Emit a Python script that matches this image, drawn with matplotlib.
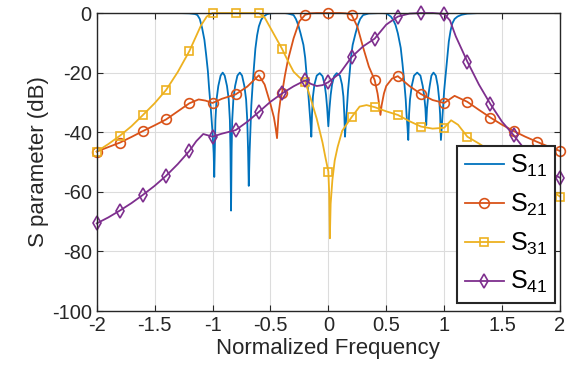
import numpy as np
import matplotlib
matplotlib.use("Agg")
import matplotlib.pyplot as plt

# Frequency axis (normalized) and S-parameters in dB
s11_f = [-2.0, -1.3, -1.2, -1.15, -1.13, -1.11, -1.09, -1.07, -1.055, -1.04, -1.03, -1.015,
         -1.0, -0.99, -0.985, -0.98, -0.975, -0.965, -0.95, -0.93, -0.912, -0.895, -0.875,
         -0.86, -0.85, -0.845, -0.84, -0.835, -0.83, -0.82, -0.805, -0.785, -0.764, -0.745,
         -0.725, -0.71, -0.7, -0.693, -0.687, -0.68, -0.672, -0.665, -0.655, -0.643, -0.63,
         -0.615, -0.6, -0.58, -0.56, -0.53, -0.5, -0.45, -0.38, -0.35, -0.3, -0.28, -0.26,
         -0.24, -0.215, -0.2, -0.19, -0.175, -0.16, -0.152, -0.147, -0.141, -0.133, -0.12,
         -0.1, -0.074, -0.05, -0.032, -0.02, -0.01, 0.0, 0.01, 0.02, 0.032, 0.05, 0.072,
         0.1, 0.118, 0.13, 0.138, 0.144, 0.149, 0.157, 0.17, 0.185, 0.195, 0.21, 0.235,
         0.255, 0.275, 0.3, 0.35, 0.45, 0.5, 0.54, 0.56, 0.58, 0.6, 0.625, 0.64, 0.655,
         0.668, 0.675, 0.683, 0.69, 0.697, 0.705, 0.72, 0.74, 0.767, 0.795, 0.815, 0.828,
         0.838, 0.845, 0.852, 0.862, 0.875, 0.89, 0.908, 0.928, 0.945, 0.957, 0.965, 0.972,
         0.98, 0.99, 1.0, 1.015, 1.03, 1.04, 1.055, 1.07, 1.09, 1.115, 1.15, 1.2, 1.3, 2.0]
s11_db = [0.0, 0.0, -0.1, -0.35, -0.7, -2.0, -5.0, -9.0, -14.0, -19.5, -25.0, -32.0,
          -40.0, -47.0, -55.0, -45.0, -36.0, -29.0, -24.5, -21.0, -20.0, -21.0, -24.5,
          -29.0, -36.0, -46.0, -66.3, -46.0, -36.0, -29.0, -24.5, -21.0, -20.0, -21.0,
          -24.5, -29.0, -36.0, -46.0, -58.0, -47.0, -38.0, -31.0, -25.0, -18.5, -12.0,
          -7.5, -4.5, -2.3, -1.2, -0.4, -0.1, 0.0, 0.0, -0.15, -0.7, -2.0, -4.0,
          -6.8, -10.7, -15.0, -19.7, -26.0, -34.0, -38.0, -41.5, -34.0, -28.0, -24.0,
          -21.0, -20.2, -21.2, -24.0, -27.5, -32.0, -38.0, -32.0, -27.5, -24.0, -21.2, -20.2,
          -21.0, -24.0, -28.0, -34.0, -41.5, -38.0, -34.0, -26.0, -19.7, -15.0, -10.7, -6.8,
          -4.0, -2.0, -0.7, -0.15, 0.0, -0.1, -1.2, -2.3, -4.0, -6.8, -11.7, -17.0, -23.0,
          -29.0, -34.0, -38.0, -42.6, -34.0, -29.0, -24.5, -21.0, -20.0, -21.0, -24.5, -28.0,
          -32.0, -37.6, -32.0, -28.0, -24.5, -21.0, -20.0, -21.0, -24.5, -29.0, -34.0, -42.6,
          -38.0, -32.0, -26.0, -19.7, -13.5, -9.6, -6.0, -3.5, -2.0, -1.2, -0.6, -0.2, 0.0, 0.0]

s21_f = [-2.0, -1.9, -1.8, -1.7, -1.6, -1.5, -1.4, -1.3, -1.2, -1.12, -1.06, -1.0, -0.92,
         -0.8, -0.7, -0.6, -0.55, -0.5, -0.47, -0.455, -0.443, -0.43, -0.415, -0.4, -0.375,
         -0.35, -0.3, -0.25, -0.2, -0.15, -0.1, 0.0, 0.1, 0.15, 0.2, 0.25, 0.3, 0.35, 0.4,
         0.425, 0.44, 0.45, 0.46, 0.48, 0.5, 0.55, 0.6, 0.7, 0.8, 0.9, 1.0, 1.09, 1.2, 1.3,
         1.4, 1.5, 1.6, 1.7, 1.8, 1.9, 2.0]
s21_db = [-46.5, -45.0, -43.5, -41.6, -39.6, -37.7, -35.7, -33.0, -30.3, -29.0, -29.4, -30.2, -28.8,
          -27.3, -24.7, -20.9, -24.0, -30.5, -35.0, -38.5, -42.0, -34.0, -29.5, -27.0, -21.0,
          -16.0, -8.5, -2.8, -0.6, -0.1, 0.0, 0.0, 0.0, -0.1, -0.6, -4.5, -11.5, -18.0, -22.5,
          -27.0, -31.0, -34.2, -31.0, -27.0, -24.5, -22.0, -21.2, -24.5, -27.2, -29.2, -30.2, -27.8, -29.8, -32.5,
          -35.1, -37.5, -39.6, -41.5, -43.2, -44.8, -46.3]

s31_f = [-2.0, -1.9, -1.8, -1.7, -1.6, -1.5, -1.4, -1.3, -1.2, -1.15, -1.1, -1.05, -1.0, -0.9,
         -0.8, -0.7, -0.6, -0.55, -0.5, -0.45, -0.4, -0.35, -0.3, -0.25, -0.2, -0.15, -0.1,
         -0.05, -0.025, 0.0, 0.007, 0.013, 0.02, 0.035, 0.055, 0.08, 0.12, 0.2, 0.27, 0.33,
         0.4, 0.5, 0.6, 0.7, 0.8, 0.9, 1.0, 1.06, 1.12, 1.2, 1.3, 1.4, 1.5, 1.6, 1.7, 1.8,
         1.9, 2.0]
s31_db = [-46.5, -44.0, -41.2, -38.0, -34.2, -30.3, -25.8, -19.8, -12.8, -8.5, -4.2, -1.2, 0.0, 0.0,
          0.0, 0.0, 0.0, -1.5, -5.0, -8.5, -12.0, -16.0, -19.7, -21.6, -23.0, -29.0, -35.5,
          -43.5, -48.5, -53.2, -60.0, -75.6, -64.0, -56.0, -49.5, -45.0, -39.5, -35.0, -31.4, -30.9,
          -31.6, -33.0, -34.2, -36.3, -38.1, -38.8, -38.5, -36.0, -37.5, -41.5, -43.8, -46.3, -48.8, -51.3, -53.8, -56.3,
          -58.9, -61.6]

s41_f = [-2.0, -1.9, -1.8, -1.7, -1.6, -1.5, -1.4, -1.3, -1.2, -1.14, -1.08, -1.0, -0.92, -0.8,
         -0.7, -0.6, -0.5, -0.4, -0.3, -0.2, -0.15, -0.1, -0.05, 0.0, 0.1, 0.2, 0.3, 0.4, 0.5,
         0.6, 0.7, 0.8, 0.9, 1.0, 1.05, 1.1, 1.2, 1.3, 1.4, 1.5, 1.6, 1.7, 1.8, 1.9, 2.0]
s41_db = [-70.6, -68.6, -66.3, -63.8, -61.0, -58.0, -54.6, -50.7, -46.3, -43.0, -40.6, -41.5, -40.5, -39.3,
          -36.5, -33.2, -29.8, -27.0, -24.6, -22.6, -23.8, -24.5, -24.2, -23.2, -20.2, -14.8, -11.2, -8.6, -3.9,
          -1.2, -0.2, 0.0, 0.0, -0.3, -2.5, -7.8, -16.3, -24.0, -30.6, -36.5, -41.0, -46.0, -50.5, -53.2, -55.3]

labels = [r"$\mathregular{S_{11}}$", r"$\mathregular{S_{21}}$",
          r"$\mathregular{S_{31}}$", r"$\mathregular{S_{41}}$"]
x_ticks = [-2, -1.5, -1, -0.5, 0, 0.5, 1, 1.5, 2]
x_ticklabels = ["-2", "-1.5", "-1", "-0.5", "0", "0.5", "1", "1.5", "2"]
y_ticks = [-100, -80, -60, -40, -20, 0]

colors = ["#0072BD", "#D95319", "#EDB120", "#7E2F8E"]
dark = "#262626"

plt.rcParams["font.family"] = ["Liberation Sans", "DejaVu Sans"]
plt.rcParams["axes.unicode_minus"] = False


def every_fifth(freqs):
    # markers sit on the 0.2 grid
    return [i for i, f in enumerate(freqs) if abs(f * 5 - round(f * 5)) < 1e-6]


fig = plt.figure(figsize=(5.8, 3.78), dpi=100)
ax = fig.add_axes([0.1667, 0.1772, 0.7988, 0.7884])

lw = 1.3
ax.plot(s11_f, s11_db, color=colors[0], lw=lw, label=labels[0])
ax.plot(s21_f, s21_db, color=colors[1], lw=lw, marker="o", ms=7, mfc="none", mew=1.2,
        markevery=every_fifth(s21_f), label=labels[1], clip_on=False)
ax.plot(s31_f, s31_db, color=colors[2], lw=lw, marker="s", ms=5.5, mfc="none", mew=1.2,
        markevery=every_fifth(s31_f), label=labels[2], clip_on=False)
ax.plot(s41_f, s41_db, color=colors[3], lw=lw, marker="d", ms=7, mfc="none", mew=1.2,
        markevery=every_fifth(s41_f), label=labels[3], clip_on=False)

ax.set_xlim(-2, 2)
ax.set_ylim(-100, 0)
ax.set_xticks(x_ticks)
ax.set_xticklabels(x_ticklabels)
ax.set_yticks(y_ticks)
ax.set_yticklabels([str(v) for v in y_ticks])
ax.grid(True, color="#dcdcdc", lw=0.8)
ax.set_axisbelow(True)
ax.tick_params(direction="in", length=4, width=0.8, colors=dark, labelsize=14.5,
               top=True, right=True, labelcolor=dark)
for sp in ax.spines.values():
    sp.set_color(dark)
    sp.set_linewidth(1.0)
ax.set_xlabel("Normalized Frequency", fontsize=16, color=dark, labelpad=2)
ax.set_ylabel("S parameter (dB)", fontsize=16, color=dark, labelpad=2)

leg = ax.legend(loc="lower right", bbox_to_anchor=(0.989, 0.027), borderaxespad=0,
                fontsize=18, handlelength=1.55, handletextpad=0.25, labelspacing=0.5,
                borderpad=0.3, fancybox=False, framealpha=1, edgecolor=dark, numpoints=1)
leg.get_frame().set_linewidth(1.5)

plt.savefig("out.png", dpi=100)
